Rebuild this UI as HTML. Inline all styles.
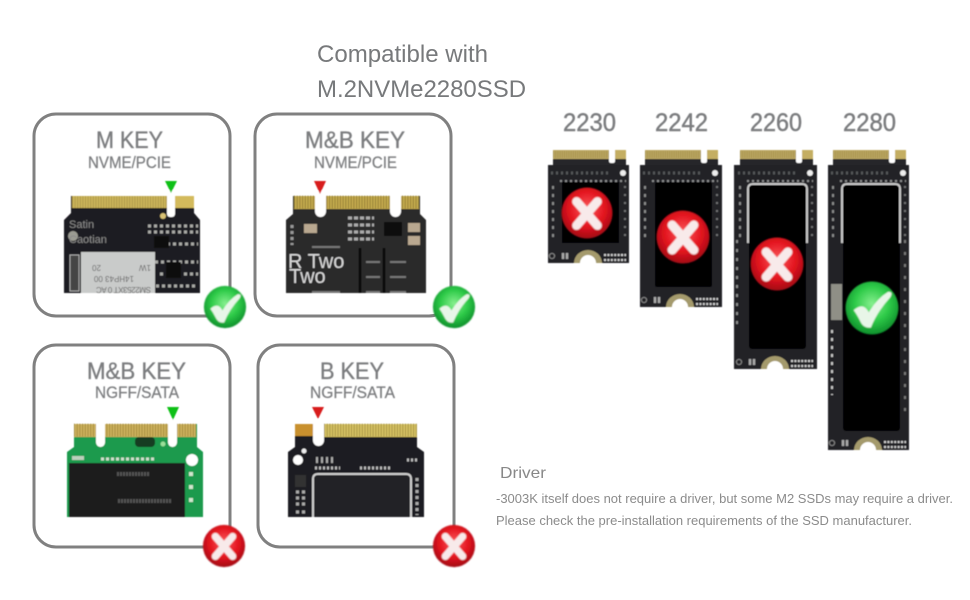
<!DOCTYPE html>
<html>
<head>
<meta charset="utf-8">
<style>
html,body{margin:0;padding:0;background:#fff}
svg{display:block}
text{font-family:"Liberation Sans",sans-serif}
.t{fill:#7b7d7f;font-size:24px;stroke:#7b7d7f;stroke-width:.35px}
.s{fill:#7b7d7f;font-size:16.5px;stroke:#7b7d7f;stroke-width:.25px}
</style>
</head>
<body>
<svg width="970" height="600" viewBox="0 0 970 600" xmlns="http://www.w3.org/2000/svg">
<defs>
<radialGradient id="gg" cx="50%" cy="42%" r="58%"><stop offset="0" stop-color="#86ef8e"/><stop offset=".55" stop-color="#2fcb49"/><stop offset="1" stop-color="#0d8f2b"/></radialGradient>
<radialGradient id="rg" cx="50%" cy="42%" r="58%"><stop offset="0" stop-color="#fb5a5c"/><stop offset=".6" stop-color="#e3141f"/><stop offset="1" stop-color="#a20a14"/></radialGradient>
<filter id="b" x="-5%" y="-5%" width="110%" height="110%"><feGaussianBlur stdDeviation=".45"/></filter>
<filter id="b2" x="-5%" y="-5%" width="110%" height="110%"><feGaussianBlur stdDeviation=".7"/></filter>
<g id="ok"><circle r="49" fill="url(#gg)"/><path d="M-34,4Q-16,-12-6,8Q10,-18 30,-30Q40,-30 34,-20Q10,6-2,36Q-16,38-22,24Q-28,12-34,4Z" fill="#e8f6e8"/></g>
<g id="no"><circle r="49" fill="url(#rg)"/><path d="M-20,-22L20,24M20,-22L-20,24" stroke="#f8eaea" stroke-width="17" stroke-linecap="round"/></g>
<g id="ssdtop">
<rect x="5" y="0" width="56" height="9" fill="#bda964"/>
<path d="M5,4.5H61" stroke="#8f7d3a" stroke-width="7" stroke-dasharray="1 1.2" opacity=".5"/>
<rect x="67" y="0" width="11" height="9" fill="#c4ae62"/>
<path d="M5,9H78V15H5Z" fill="#26262a"/>
<rect x="61" y="0" width="6" height="13" rx="2" fill="#fff"/>
<circle cx="75" cy="23" r="3" fill="#eee"/>
<path d="M3,23H60" stroke="#55585a" stroke-width="3" stroke-dasharray="2 3"/>
<path d="M12,31H78" stroke="#8d8f90" stroke-width="2" stroke-dasharray="2 3"/>
<path d="M5,36V90" stroke="#8a8c8c" stroke-width="2" stroke-dasharray="3 5"/>
<path d="M77,36V90" stroke="#6f7171" stroke-width="2" stroke-dasharray="2 6"/>
</g>
<g id="ssdbot">
<circle cx="4" cy="-7" r="2.6" fill="none" stroke="#888"/>
<path d="M15,-10v6M19,-10v6" stroke="#aaa" stroke-width="2.5"/>
<path d="M26,0A14,13 0 0 1 54,0Z" fill="#a49a6c"/>
<path d="M32,0A8,8 0 0 1 48,0Z" fill="#fff"/>
<path d="M56,-8H78M56,-3H78" stroke="#d0d0d0" stroke-width="2.2" stroke-dasharray="2 1.4"/>
</g>
</defs>

<!-- heading -->
<text x="317" y="62" fill="#77797b" font-size="24" textLength="171" lengthAdjust="spacingAndGlyphs">Compatible with</text>
<text x="317" y="97" fill="#77797b" font-size="24" textLength="209" lengthAdjust="spacingAndGlyphs">M.2NVMe2280SSD</text>

<!-- cards -->
<g fill="none" stroke="#808080" stroke-width="3">
<rect x="34" y="114" width="196" height="202" rx="22"/>
<rect x="255" y="114" width="196" height="202" rx="22"/>
<rect x="34" y="345" width="196" height="202" rx="22"/>
<rect x="258" y="345" width="196" height="202" rx="22"/>
</g>

<g filter="url(#b)">
<text class="t" x="96" y="148" textLength="67" lengthAdjust="spacingAndGlyphs">M KEY</text>
<text class="s" x="88" y="168" textLength="83" lengthAdjust="spacingAndGlyphs">NVME/PCIE</text>
<text class="t" x="305" y="148" textLength="100" lengthAdjust="spacingAndGlyphs">M&amp;B KEY</text>
<text class="s" x="314" y="168" textLength="83" lengthAdjust="spacingAndGlyphs">NVME/PCIE</text>
<text class="t" x="87" y="379" textLength="99" lengthAdjust="spacingAndGlyphs">M&amp;B KEY</text>
<text class="s" x="95" y="398" textLength="84" lengthAdjust="spacingAndGlyphs">NGFF/SATA</text>
<text class="t" x="320" y="379" textLength="64" lengthAdjust="spacingAndGlyphs">B KEY</text>
<text class="s" x="310" y="398" textLength="85" lengthAdjust="spacingAndGlyphs">NGFF/SATA</text>

<!-- card 1 pcb -->
<path d="M71,196H194V213L200,220V293H64V220L71,213Z" fill="#1f1e21"/>
<rect x="72" y="196" width="95" height="12" fill="#cdb65c"/>
<path d="M72,202H167" stroke="#8f7c35" stroke-width="12" stroke-dasharray="1 1.6" opacity=".5"/>
<rect x="175" y="196" width="19" height="12" fill="#d3ba5c"/>
<rect x="167" y="190" width="8" height="27" rx="3" fill="#fff"/>
<circle cx="163" cy="216" r="3" fill="#d8c274"/>
<rect x="81" y="252" width="74" height="41" fill="#c9cbca"/>
<rect x="70" y="255" width="9" height="36" fill="#444" stroke="#aaa"/>
<path d="M148,226H198M148,232H198M155,244H198M155,262H198M160,274H198M156,286H198" stroke="#a8a9a6" stroke-width="3" stroke-dasharray="3 3"/>
<rect x="154" y="236" width="15" height="12" fill="#111"/>
<rect x="166" y="262" width="15" height="16" fill="#111"/>
<text x="69" y="228" fill="#8a8a8a" font-size="11">Satin</text>
<circle cx="73" cy="236" r="5" fill="#9b9b92"/>
<text x="69" y="243" fill="#8a8a8a" font-size="11">Caotian</text>
<g transform="rotate(180 118 272)" fill="#666" font-size="8"><text x="85" y="257" textLength="55">SM2253XT 0 AC</text><text x="102" y="268">14HP43 00</text><text x="85" y="279">1W</text><text x="135" y="279">20</text></g>
<path d="M165,181H177L171,193Z" fill="#10c016"/>

<!-- card 2 pcb -->
<path d="M293,196H420V214L426,220V293H286V220L293,214Z" fill="#2a292c"/>
<g fill="#c8ae50"><rect x="294" y="196" width="21" height="13"/><rect x="326" y="196" width="64" height="13"/><rect x="401" y="196" width="18" height="13"/></g>
<path d="M294,202H419" stroke="#6b5a26" stroke-width="13" stroke-dasharray="1 1.7" opacity=".6"/>
<rect x="315" y="190" width="11" height="27" rx="5.5" fill="#fff"/>
<rect x="390" y="190" width="11" height="27" rx="5.5" fill="#fff"/>
<path d="M314,181H326L320,194Z" fill="#d81e1e"/>
<rect x="304" y="224" width="13" height="9" fill="#b9a890"/>
<rect x="408" y="223" width="12" height="9" fill="#b9a890"/>
<rect x="408" y="236" width="12" height="9" fill="#b9a890"/>
<rect x="384" y="222" width="18" height="14" fill="#111"/>
<path d="M348,218H374M348,225H374M348,232H374M348,239H374" stroke="#aaa" stroke-width="3" stroke-dasharray="4 2"/>
<path d="M292,225V245" stroke="#999" stroke-width="3" stroke-dasharray="3 3"/>
<path d="M312,247H340M366,262H380M390,262H406M366,277H380M390,277H406M312,292H340M366,292H380M390,292H406" stroke="#777" stroke-width="2"/>
<path d="M360,248V293M384,248V293" stroke="#0d0d0d" stroke-width="3"/>
<text x="288" y="268" fill="#d8d8d8" font-size="20">R Two</text>
<text x="289" y="283" fill="#d8d8d8" font-size="20">Two</text>

<!-- card 3 pcb -->
<path d="M74,424H197V447L203,452V517H67V452L74,447Z" fill="#1f9a4d"/>
<g fill="#d0b45e"><rect x="74" y="424" width="22" height="13"/><rect x="105" y="424" width="63" height="13"/><rect x="177" y="424" width="19" height="13"/></g>
<path d="M74,430H196" stroke="#7c6824" stroke-width="13" stroke-dasharray="1 1.7" opacity=".55"/>
<rect x="96" y="419" width="9" height="28" rx="4.5" fill="#fff"/>
<rect x="168" y="419" width="9" height="28" rx="4.5" fill="#fff"/>
<rect x="135" y="437" width="20" height="10" rx="4" fill="#123d22"/>
<circle cx="163" cy="444" r="2.5" fill="#9adf9a"/>
<rect x="69" y="463" width="116" height="54" fill="#1d1d1f"/>
<path d="M101,459H155" stroke="#cfe0cf" stroke-width="3" stroke-dasharray="3 2"/>
<rect x="72" y="456" width="12" height="4" fill="#bcd0bc"/>
<circle cx="192" cy="460" r="6" fill="#fff"/>
<path d="M191,472V510" stroke="#cfe8cf" stroke-width="4" stroke-dasharray="4 9"/>
<path d="M117,474H150M118,501H172" stroke="#555" stroke-width="4" stroke-dasharray="2 1"/>
<path d="M167,407H179L173,420Z" fill="#10c016"/>

<!-- card 4 pcb -->
<path d="M295,424H417V447L424,452V517H288V452L295,447Z" fill="#1e1e21"/>
<rect x="295" y="424" width="18" height="12" fill="#c8902f"/>
<rect x="324" y="424" width="93" height="13" fill="#d8c465"/>
<path d="M324,430H417" stroke="#7c6b28" stroke-width="13" stroke-dasharray="1 1.7" opacity=".55"/>
<rect x="313" y="419" width="11" height="27" rx="5.5" fill="#fff"/>
<path d="M312,407H324L318,419Z" fill="#d81e1e"/>
<circle cx="298" cy="460" r="5" fill="#fff"/>
<circle cx="304" cy="451" r="2.5" fill="#eee"/>
<path d="M313,517V479Q313,474 318,474H406Q411,474 411,479V517Z" fill="#232325"/>
<path d="M313,517V479Q313,474 318,474H406Q411,474 411,479V517" fill="none" stroke="#cfcfcf" stroke-width="2"/>
<path d="M315,468H340M360,468H392M407,460H418" stroke="#bbb" stroke-width="3" stroke-dasharray="2 2"/>
<path d="M316,460H336" stroke="#aaa" stroke-width="6" stroke-dasharray="2 3"/>
<rect x="295" y="475" width="11" height="12" fill="#333"/>
<path d="M296,492H308M296,498H308M296,504H308M296,512H308M417,478V515" stroke="#aaa" stroke-width="3" stroke-dasharray="3 3"/>

<!-- SSD labels -->
<g fill="#7b7d7f" font-size="25" stroke="#7b7d7f" stroke-width=".45">
<text x="563" y="131" textLength="53" lengthAdjust="spacingAndGlyphs">2230</text>
<text x="655" y="131" textLength="53" lengthAdjust="spacingAndGlyphs">2242</text>
<text x="750" y="131" textLength="52" lengthAdjust="spacingAndGlyphs">2260</text>
<text x="843" y="131" textLength="53" lengthAdjust="spacingAndGlyphs">2280</text>
</g>

<!-- SSDs -->
<rect x="548" y="165" width="81" height="98" fill="#232325"/>
<g transform="translate(548,150)"><use href="#ssdtop"/></g>
<rect x="562" y="182" width="57" height="61" fill="#000"/>
<g transform="translate(548,263)"><use href="#ssdbot"/></g>

<rect x="640" y="165" width="82" height="142" fill="#232325"/>
<g transform="translate(640,150)"><use href="#ssdtop"/></g>
<rect x="655" y="182" width="57" height="105" rx="2" fill="#000"/>
<g transform="translate(640,307)"><use href="#ssdbot"/></g>

<rect x="734" y="165" width="83" height="204" fill="#232325"/>
<g transform="translate(735,150)"><use href="#ssdtop"/></g>
<rect x="749" y="184" width="57" height="165" rx="3" fill="#000"/>
<path d="M748,243V189Q748,184 753,184H802Q807,184 807,189V243" fill="none" stroke="#c8c8c8" stroke-width="2"/>
<path d="M737,240V330" stroke="#8a8c8c" stroke-width="2" stroke-dasharray="3 6"/>
<g transform="translate(735,369)"><use href="#ssdbot"/></g>

<rect x="828" y="165" width="81" height="285" fill="#232325"/>
<g transform="translate(828,150)"><use href="#ssdtop"/></g>
<rect x="843" y="184" width="57" height="247" rx="3" fill="#000"/>
<path d="M842,243V189Q842,184 847,184H895Q900,184 900,189V243" fill="none" stroke="#c8c8c8" stroke-width="2"/>
<rect x="831" y="284" width="11" height="36" fill="#8f8f86"/>
<path d="M832,330V395" stroke="#c8c8c8" stroke-width="2" stroke-dasharray="3 5"/>
<path d="M905,240V420" stroke="#777" stroke-width="2" stroke-dasharray="3 9"/>
<g transform="translate(828,450)"><use href="#ssdbot"/></g>
</g>

<!-- badges -->
<g filter="url(#b2)">
<g transform="translate(225,307) scale(.43)"><use href="#ok"/></g>
<g transform="translate(454,307) scale(.43)"><use href="#ok"/></g>
<g transform="translate(224,546) scale(.43)"><use href="#no"/></g>
<g transform="translate(454,546) scale(.43)"><use href="#no"/></g>
<g transform="translate(587,213) scale(.52)"><use href="#no"/></g>
<g transform="translate(683,237) scale(.54)"><use href="#no"/></g>
<g transform="translate(777,264) scale(.54)"><use href="#no"/></g>
<g transform="translate(872,308) scale(.54)"><use href="#ok"/></g>
</g>

<!-- driver -->
<text x="500" y="478" fill="#888" font-size="16" textLength="46" lengthAdjust="spacingAndGlyphs">Driver</text>
<text x="496" y="503" fill="#8b8b8b" font-size="12.5" textLength="457" lengthAdjust="spacingAndGlyphs">-3003K itself does not require a driver, but some M2 SSDs may require a driver.</text>
<text x="496" y="525" fill="#8b8b8b" font-size="12.5" textLength="416" lengthAdjust="spacingAndGlyphs">Please check the pre-installation requirements of the SSD manufacturer.</text>
</svg>
</body>
</html>
